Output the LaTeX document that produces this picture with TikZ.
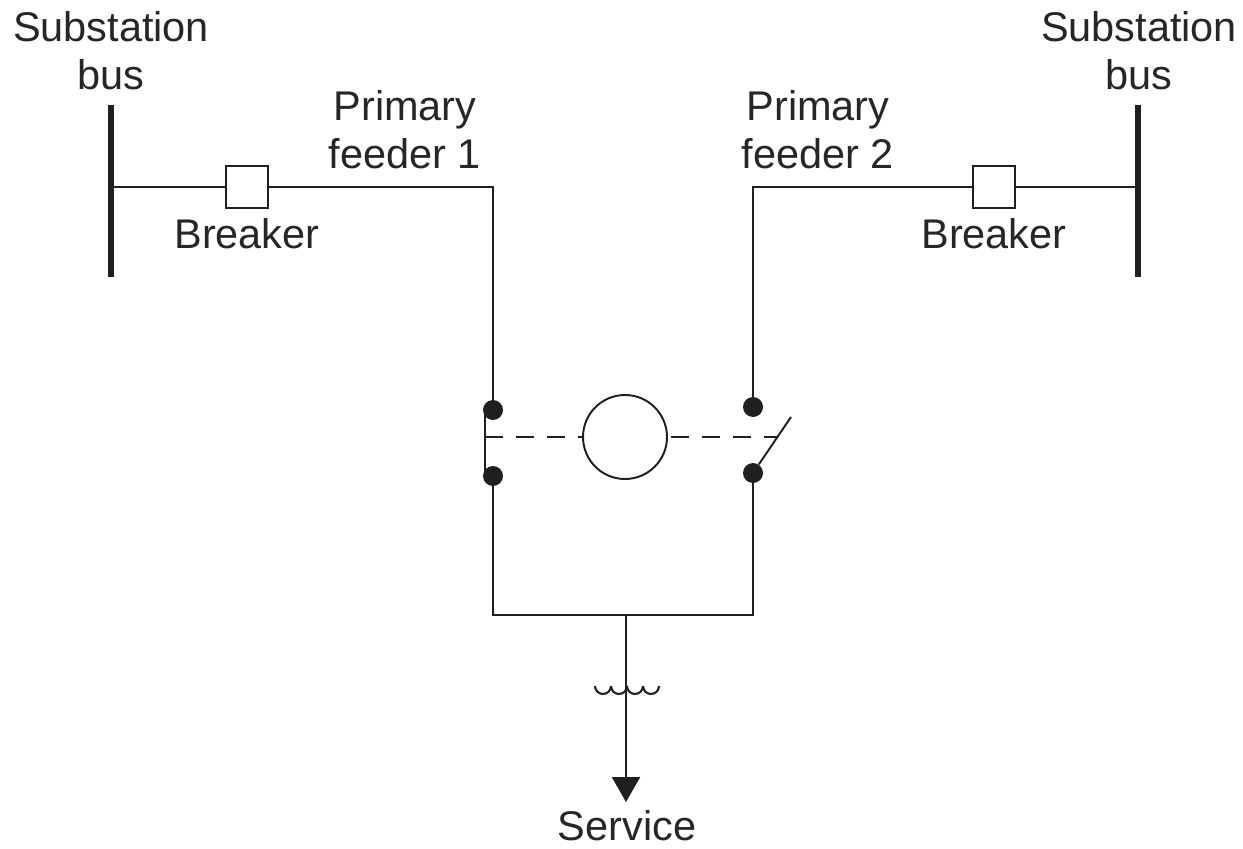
\documentclass[tikz,border=0pt]{standalone}
\usepackage{fontspec}
\setmainfont{Liberation Sans}
\usetikzlibrary{positioning, arrows.meta}

\begin{document}
\begin{tikzpicture}[
        wire/.style={line width=1.4pt, draw=linecolor},
        busbar/.style={line width=2.9pt, draw=linecolor},
        linkage/.style={line width=1.1pt, draw=linecolor, dash pattern=on 0.36cm off 0.26cm},
        breakerbox/.style={draw=linecolor, line width=1.1pt, fill=white, minimum size=0.84cm, inner sep=0pt},
        contact/.style={circle, fill=linecolor, inner sep=0pt, minimum size=0.4cm},
        label/.style={font=\fontsize{23.6}{27.5}\selectfont, align=center, text=textcolor, inner sep=0pt}
    ]
        % Define some colors for convenience
        \definecolor{linecolor}{rgb}{0.12,0.12,0.12} % line color
        \definecolor{textcolor}{rgb}{0.15,0.15,0.15} % label color

        \useasboundingbox (0,0) rectangle (24.86,16.96);

        % Substation buses
        \coordinate (bus1top) at (2.22,14.86);
        \coordinate (bus1bot) at (2.22,11.42);
        \coordinate (bus1tap) at (2.22,13.22);
        \coordinate (bus2top) at (22.76,14.86);
        \coordinate (bus2bot) at (22.76,11.42);
        \coordinate (bus2tap) at (22.76,13.22);
        \draw[busbar] (bus1top) -- (bus1bot);
        \draw[busbar] (bus2top) -- (bus2bot);

        % Breakers and contacts
        \node[breakerbox] (breaker1) at (4.94,13.22) {};
        \node[breakerbox] (breaker2) at (19.88,13.22) {};
        \node[contact] (contact1a) at (9.86,8.76) {};
        \node[contact] (contact1b) at (9.86,7.44) {};
        \node[contact] (contact2a) at (15.06,8.82) {};
        \node[contact] (contact2b) at (15.06,7.5) {};
        \node[draw=linecolor, line width=1.1pt, circle, inner sep=0pt, minimum size=1.68cm] (motor) at (12.5,8.22) {};

        % Feeders
        \coordinate (corner1) at (9.86,13.22);
        \coordinate (corner2) at (15.06,13.22);
        \draw[wire] (bus1tap) -- (breaker1);
        \draw[wire] (breaker1) -- (corner1) -- (contact1a);
        \draw[wire] (bus2tap) -- (breaker2);
        \draw[wire] (breaker2) -- (corner2) -- (contact2a);

        % Service side
        \coordinate (low1) at (9.86,4.66);
        \coordinate (low2) at (15.06,4.66);
        \coordinate (tap) at (12.52,4.66);
        \coordinate (tip) at (12.52,0.92);
        \draw[wire] (contact1b) -- (low1) -- (low2) -- (contact2b);
        \draw[wire, -{Triangle[length=0.5cm,width=0.56cm]}] (tap) -- (tip);

        % Transformer winding
        \foreach \i in {0,1,2,3} {
            \draw[line width=1.2pt, draw=linecolor] (11.9+0.32*\i,3.24) arc (180:360:0.16);
        }

        % Mechanical interlock
        \coordinate (barleft) at (9.7,8.22);
        \coordinate (bartop) at (9.7,8.76);
        \coordinate (barbot) at (9.7,7.44);
        \coordinate (bladeend) at (15.82,8.62);
        \coordinate (bladejoin) at (15.54,8.22);
        \draw[wire] (bartop) -- (barbot);
        \draw[linkage] (barleft) -- (motor.west);
        \draw[linkage, shorten <=0.06cm] (motor.east) -- (bladejoin);
        \draw[line width=1.1pt, draw=linecolor] (contact2b) -- (bladeend);

        % Labels
        \node[label] (sub1) at (2.22,15.94) {Substation\\bus};
        \node[label] (sub2) at (22.78,15.94) {Substation\\bus};
        \node[label] (feeder1) at (8.1,14.37) {Primary\\feeder 1};
        \node[label] (feeder2) at (16.36,14.37) {Primary\\feeder 2};
        \node[label] (brk1) at (4.94,12.28) {Breaker};
        \node[label] (brk2) at (19.88,12.28) {Breaker};
        \node[label] (service) at (12.54,0.44) {Service};
    \end{tikzpicture}
\end{document}
